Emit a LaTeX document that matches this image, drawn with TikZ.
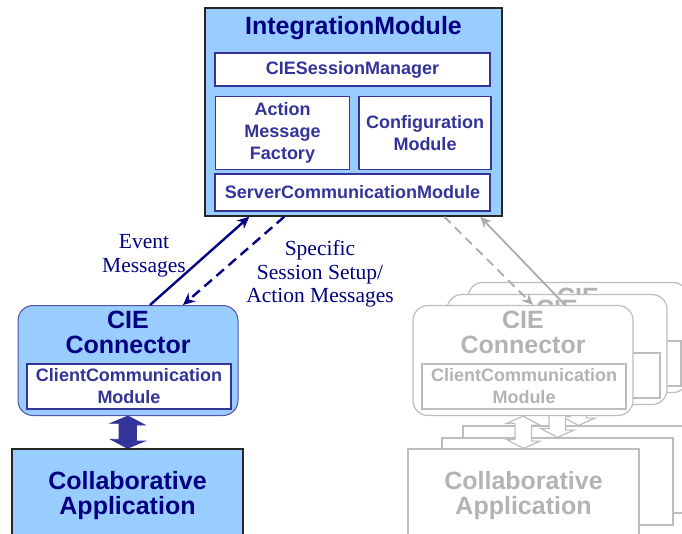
\documentclass[tikz,border=0pt]{standalone}
\usepackage{fontspec}
\setmainfont{Liberation Serif}
\setsansfont{Liberation Sans}
\usepackage{tikz}
\usetikzlibrary{calc,arrows.meta}
\definecolor{paleblue}{HTML}{99CCFF}
\definecolor{navyblue}{HTML}{000080}
\definecolor{indigo}{HTML}{333399}
\definecolor{ghost}{HTML}{BDBDBD}
\definecolor{ghostline}{HTML}{ABABAB}
\definecolor{ghosttext}{HTML}{B3B3B3}
\tikzset{
    big-font/.style = {font=\sffamily\bfseries\fontsize{25}{25}\selectfont},
    small-font/.style = {font=\sffamily\bfseries\fontsize{18}{22}\selectfont},
    outer-box/.style = {draw=black!85, fill=paleblue, line width=1.5pt, rectangle, inner sep=0pt},
    module-box/.style = {draw=indigo, fill=white, line width=1.6pt, rectangle, inner sep=0pt, align=center, text=indigo, small-font},
    connector-box/.style = {draw=indigo!85, fill=paleblue, line width=1pt, rectangle, rounded corners=15pt, minimum width=220pt, minimum height=110pt},
    title-text/.style = {big-font, text=navyblue, align=center, inner sep=0pt},
    msg-label/.style = {font=\fontsize{21.5}{23.5}\selectfont, text=navyblue, align=center, inner sep=0pt},
    msg-arrow/.style = {draw=navyblue, line width=2.4pt, -{Stealth[length=12pt, width=11pt]}},
    msg-dashed/.style = {msg-arrow, dash pattern=on 10pt off 6pt},
    fat-arrow/.style = {fill=indigo, draw=indigo, line width=0.8pt, line join=miter},
    ghost-box/.style = {draw=ghost, fill=white, line width=1.2pt, rectangle, rounded corners=15pt, minimum width=220pt, minimum height=110pt},
    ghost-module/.style = {draw=ghost, fill=white, line width=1.4pt, rectangle, inner sep=0pt, minimum width=204pt, minimum height=45pt, align=center, text=ghosttext, small-font},
    ghost-app/.style = {draw=ghost, fill=white, line width=1.2pt, rectangle, minimum width=231pt, minimum height=87pt},
    ghost-text/.style = {big-font, text=ghosttext, align=center, inner sep=0pt},
    ghost-arrow/.style = {draw=ghostline, line width=1.8pt, -{Stealth[length=11pt, width=10pt]}},
    ghost-fat/.style = {fill=white, draw=ghost, line width=1.2pt, line join=miter},
}

\begin{document}
\begin{tikzpicture}[x=1pt, y=-1pt]
\useasboundingbox (0,0) rectangle (682,533);
\clip (0,0) rectangle (682,533);

\node [outer-box, minimum width=297pt, minimum height=208pt] (im) at (353.5,112) {};
\node [title-text, anchor=base] (im-title) at (353.5,34) {IntegrationModule};
\node [module-box, minimum width=275pt, minimum height=33pt] (sess) at (352.5,69.5) {CIESessionManager};
\node [module-box, minimum width=134pt, minimum height=73pt] (amf) at (282.5,133) {Action\\Message\\Factory};
\node [module-box, minimum width=132pt, minimum height=73pt] (cfg) at (425,133) {Configuration\\Module};
\node [module-box, minimum width=275pt, minimum height=37pt] (scm) at (352.5,192.5) {ServerCommunicationModule};

\node [connector-box] (cie) at (128,360.5) {};
\node [title-text] (cie-title) at (128,332.5) {CIE\\Connector};
\node [module-box, minimum width=204pt, minimum height=45pt] (ccm) at (129,386.5) {ClientCommunication\\Module};

\node [outer-box, minimum width=231pt, minimum height=87pt] (app) at (127.5,492.5) {};
\node [title-text] (app-title) at (127.5,495.5) {Collaborative\\Application};

\draw [fat-arrow] (cie.south) -- ++(17,9) -- ++(-8.5,0) -- ++(0,16) -- ++(8.5,0) -- (app.north)
    -- ++(-17,-9) -- ++(8.5,0) -- ++(0,-16) -- ++(-8.5,0) -- cycle;

\draw [msg-arrow] ($(cie.north)+(22,0)$) -- ($(im.south west)+(45,0)$);
\draw [msg-dashed] ($(im.south west)+(80,0)$) -- ($(cie.north)+(55,0)$);
\node [msg-label] (event) at (144,256) {Event\\Messages};
\node [msg-label] (setup) at (320,274) {Specific\\Session Setup/\\Action Messages};

\foreach \dx/\dy/\n in {55/-23/c, 34/-11/b} {
    \begin{scope}[shift={(\dx,\dy)}]
    \node [ghost-app] (gapp-\n) at (523.5,492.5) {};
    \node [ghost-box] (gcie-\n) at (523,360.5) {};
    \draw [ghost-fat] (gcie-\n.south) -- ++(17,9) -- ++(-8.5,0) -- ++(0,16) -- ++(8.5,0) -- (gapp-\n.north)
        -- ++(-17,-9) -- ++(8.5,0) -- ++(0,-16) -- ++(-8.5,0) -- cycle;
    \node [ghost-text, anchor=base] at (523,328) {CIE};
    \node [ghost-module] (gccm-\n) at (524,386.5) {};
    \end{scope}
}

\node [ghost-app] (gapp-a) at (523.5,492.5) {};
\node [ghost-text] (gapp-title) at (523.5,495.5) {Collaborative\\Application};
\node [ghost-box] (gcie-a) at (523,360.5) {};
\draw [ghost-fat] (gcie-a.south) -- ++(17,9) -- ++(-8.5,0) -- ++(0,16) -- ++(8.5,0) -- (gapp-a.north)
    -- ++(-17,-9) -- ++(8.5,0) -- ++(0,-16) -- ++(-8.5,0) -- cycle;
\node [ghost-text] (gcie-title) at (523,332.5) {CIE\\Connector};
\node [ghost-module] (gccm-a) at (524,386.5) {ClientCommunication\\Module};

\draw [ghost-arrow, dash pattern=on 9pt off 6pt] ($(im.south west)+(240,0)$) -- ($(gcie-a.north)+(10,0)$);
\draw [ghost-arrow] ($(gcie-a.north)+(42,0)$) -- ($(im.south west)+(276,0)$);
\end{tikzpicture}
\end{document}
